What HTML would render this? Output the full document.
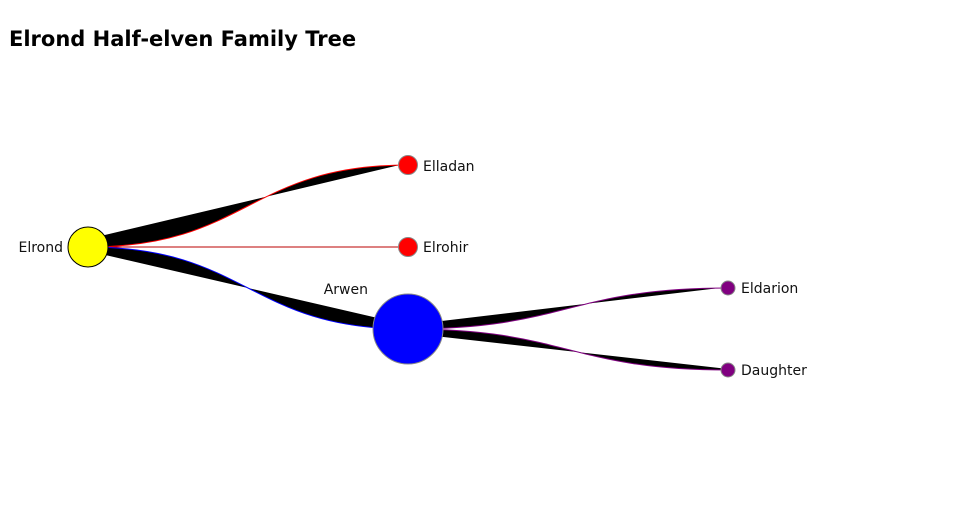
<!DOCTYPE html>
<html><head><style>
body{margin:0;background:#fff;width:960px;height:500px;overflow:hidden}
text{font-family:"DejaVu Sans","Liberation Sans",sans-serif}
</style></head><body>
<svg width="960" height="500" viewBox="0 0 960 500">
<text x="9" y="46" font-size="21" font-weight="bold" fill="#000">Elrond Half-elven Family Tree</text>
<g fill="#000">
<path d="M88,247 C248,247 248,165 408,165 L408,163 L88,239 Z"/>
<path d="M88,247 C248,247 248,329 408,329 L408,325 L88,251 Z"/>
<path d="M408,329 C568,329 568,288 728,288 L728,287 L408,325 Z"/>
<path d="M408,329 C568,329 568,370 728,370 L728,369 L408,333 Z"/>
</g>
<g fill="none" stroke-width="1">
<path d="M88,247 C248,247 248,165 408,165" stroke="#f00"/>
<path d="M88,247 L408,247" stroke="#b00"/>
<path d="M88,247 C248,247 248,329 408,329" stroke="#00f"/>
<path d="M408,329 C568,329 568,288 728,288" stroke="#800080"/>
<path d="M408,329 C568,329 568,370 728,370" stroke="#800080"/>
</g>
<circle cx="88" cy="247" r="20" fill="#ff0" stroke="#000"/>
<circle cx="408" cy="165" r="9.5" fill="#f00" stroke="#888"/>
<circle cx="408" cy="247" r="9.5" fill="#f00" stroke="#888"/>
<circle cx="408" cy="329" r="35" fill="#00f" stroke="#888"/>
<circle cx="728" cy="288" r="7" fill="#800080" stroke="#888"/>
<circle cx="728" cy="370" r="7" fill="#800080" stroke="#888"/>
<g font-size="14" fill="#111">
<text x="63" y="252" text-anchor="end">Elrond</text>
<text x="423" y="171">Elladan</text>
<text x="423" y="252">Elrohir</text>
<text x="368" y="294" text-anchor="end">Arwen</text>
<text x="741" y="293">Eldarion</text>
<text x="741" y="375">Daughter</text>
</g>
</svg>
</body></html>
